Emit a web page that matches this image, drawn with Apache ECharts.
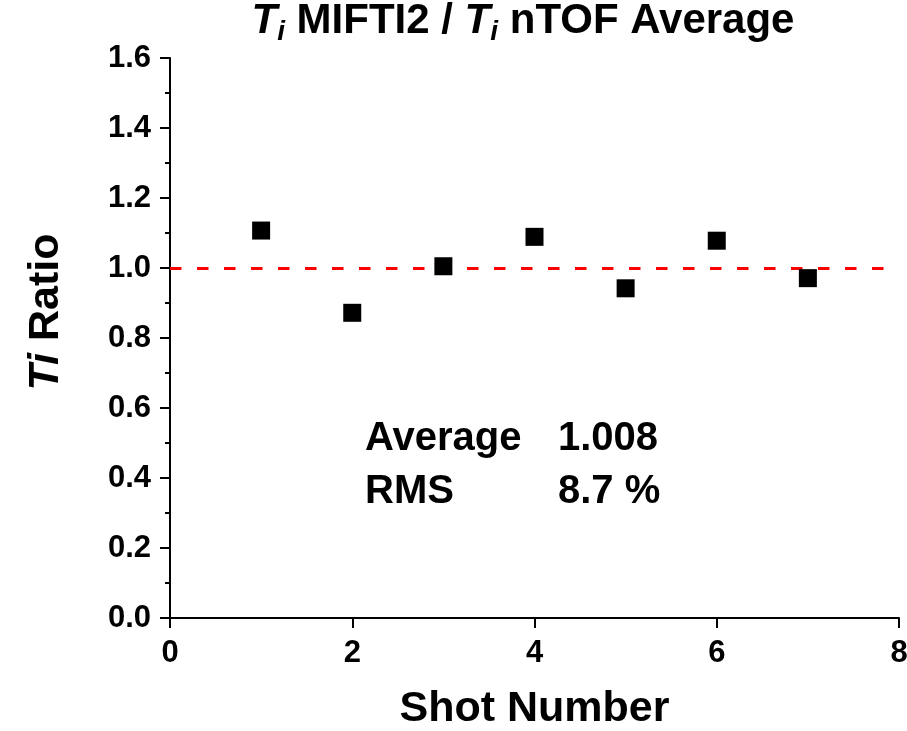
<!DOCTYPE html>
<html>
<head>
<meta charset="utf-8">
<script src="https://cdn.jsdelivr.net/npm/echarts@6/dist/echarts.min.js"></script>
<style>
  html, body { margin: 0; padding: 0; background: #fff; }
  #chart { width: 907px; height: 731px; }
</style>
</head>
<body>
<div id="chart"></div>
<script>
// Shot-by-shot ion temperature ratio (MIFTI2 / nTOF average)
const shotNumbers = [1, 2, 3, 4, 5, 6, 7];
const tiRatios = [1.107, 0.872, 1.005, 1.089, 0.942, 1.078, 0.971];
const referenceRatio = 1.0;
const xTicks = [0, 2, 4, 6, 8];
const yTickLabels = ['0.0', '0.2', '0.4', '0.6', '0.8', '1.0', '1.2', '1.4', '1.6'];
const statsLabels = ['Average', 'RMS'];
const statsValues = ['1.008', '8.7 %'];

const FONT = '"Liberation Sans", Arial, sans-serif';
const chart = echarts.init(document.getElementById('chart'), null, { renderer: 'canvas' });

const points = shotNumbers.map((s, i) => [s, tiRatios[i]]);

chart.setOption({
  backgroundColor: '#ffffff',
  animation: false,
  title: {
    text: '{it|T}{sub|i}{b| MIFTI2 / }{it|T}{sub|i}{b| nTOF Average}',
    left: 518,
    textAlign: 'center',
    top: -5,
    textStyle: {
      rich: {
        it: { fontFamily: FONT, fontSize: 42, lineHeight: 46, fontWeight: 'bold', fontStyle: 'italic', color: '#000', verticalAlign: 'top' },
        sub: { fontFamily: FONT, fontSize: 28, lineHeight: 28, fontWeight: 'bold', fontStyle: 'italic', color: '#000', verticalAlign: 'bottom', padding: [24, 0, 0, 0] },
        b: { fontFamily: FONT, fontSize: 42, lineHeight: 46, fontWeight: 'bold', color: '#000', verticalAlign: 'top' }
      }
    }
  },
  grid: { left: 170, right: 8, top: 58, bottom: 113, containLabel: false, outerBoundsMode: 'none' },
  xAxis: {
    type: 'value',
    min: xTicks[0],
    max: xTicks[xTicks.length - 1],
    interval: 2,
    name: 'Shot Number',
    nameLocation: 'middle',
    nameGap: 70,
    nameTextStyle: { fontFamily: FONT, fontSize: 43, fontWeight: 'bold', color: '#000' },
    axisLine: { show: true, onZero: false, lineStyle: { color: '#000', width: 2 } },
    axisTick: { show: true, inside: false, length: 10, lineStyle: { color: '#000', width: 2 } },
    minorTick: { show: false },
    axisLabel: { fontFamily: FONT, fontSize: 31, fontWeight: 'bold', color: '#000', margin: 20, hideOverlap: false },
    splitLine: { show: false }
  },
  yAxis: {
    type: 'value',
    min: 0,
    max: 1.6,
    interval: 0.2,
    name: '{it|Ti}{b| Ratio}',
    nameLocation: 'middle',
    nameGap: 102,
    nameRotate: 90,
    nameTextStyle: {
      padding: [0, 0, 0, 52],
      rich: {
        it: { fontFamily: FONT, fontSize: 43, fontWeight: 'bold', fontStyle: 'italic', color: '#000' },
        b: { fontFamily: FONT, fontSize: 43, fontWeight: 'bold', color: '#000' }
      }
    },
    axisLine: { show: true, onZero: false, lineStyle: { color: '#000', width: 2 } },
    axisTick: { show: true, inside: false, length: 10, lineStyle: { color: '#000', width: 2 } },
    minorTick: { show: true, splitNumber: 2, length: 5, lineStyle: { color: '#000', width: 2 } },
    axisLabel: {
      fontFamily: FONT, fontSize: 31, fontWeight: 'bold', color: '#000', margin: 19,
      formatter: (v) => yTickLabels[Math.round(v / 0.2)] ?? v.toFixed(1)
    },
    splitLine: { show: false }
  },
  series: [
    {
      type: 'scatter',
      data: points,
      symbol: 'rect',
      symbolSize: 18,
      itemStyle: { color: '#000', opacity: 1, borderRadius: 2 },
      z: 3,
      markLine: {
        silent: true,
        symbol: ['none', 'none'],
        label: { show: false },
        lineStyle: { color: '#ff0000', width: 3, opacity: 1, type: [11.5, 15.5] },
        data: [[{ coord: [xTicks[0], referenceRatio] }, { coord: [xTicks[xTicks.length - 1], referenceRatio] }]],
        z: 2
      }
    }
  ],
  graphic: [
    {
      type: 'group',
      left: 365,
      top: 419,
      children: statsLabels.flatMap((lab, i) => [
        {
          type: 'text', x: 0, y: i * 53,
          style: { text: lab, font: `bold 40px ${FONT}`, fill: '#000' }
        },
        {
          type: 'text', x: 193, y: i * 53,
          style: { text: statsValues[i], font: `bold 40px ${FONT}`, fill: '#000' }
        }
      ])
    }
  ]
});
</script>
</body>
</html>
